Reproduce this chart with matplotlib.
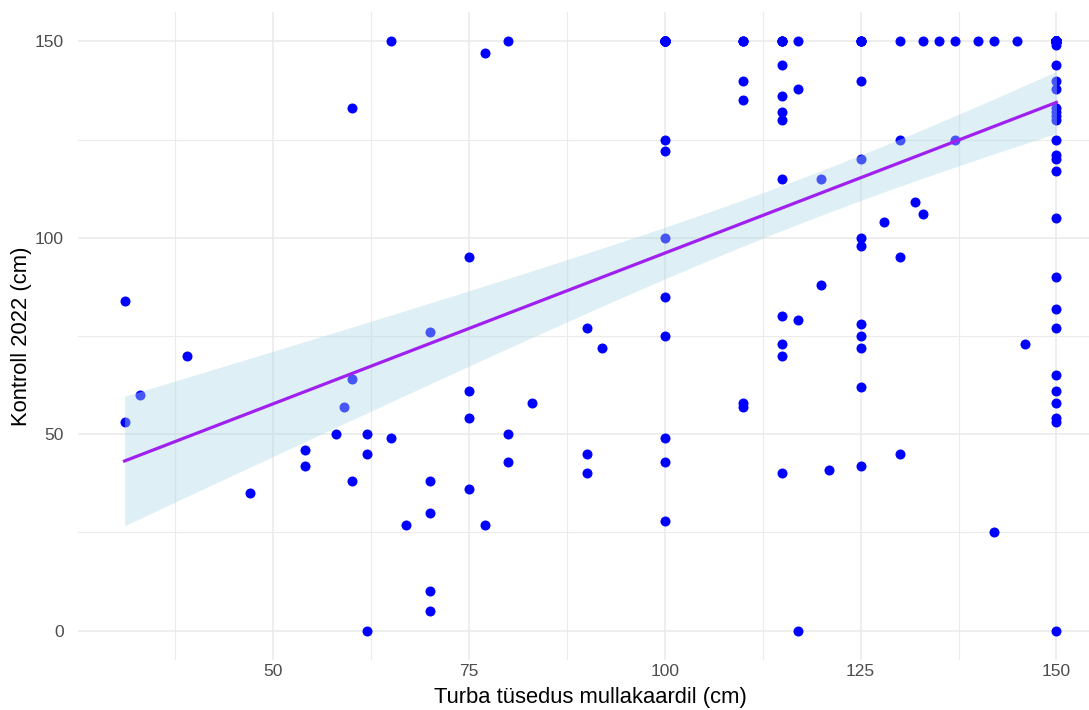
import matplotlib
matplotlib.use("Agg")
import matplotlib.pyplot as plt
import numpy as np
from matplotlib.ticker import MultipleLocator

# turba tüsedus mullakaardil (x) vs kontroll 2022 (y), cm
turba = [31, 39, 33, 31, 60, 59, 58, 62, 65, 54, 54, 62, 60, 47, 62, 65, 60,
         77, 80, 100, 100, 100, 100, 100, 75, 100, 90, 70, 100, 92, 75, 83,
         75, 80, 100, 80, 90, 100, 90, 70, 75, 70, 67, 77, 100, 70, 70,
         110, 115, 117, 125, 115, 110, 110, 117, 115, 115, 115, 125, 125,
         115, 120, 125, 125, 120, 115, 117, 125, 125, 115, 115, 125, 125,
         110, 110, 115, 121, 125, 117,
         130, 133, 135, 137, 140, 142, 145, 150, 150, 150, 150, 150, 150,
         150, 150, 150, 150, 130, 137, 150, 150, 150, 150, 132, 133, 128,
         150, 130, 150, 150, 150, 146, 150, 150, 150, 150, 150, 130, 142, 150]
kontroll = [84, 70, 60, 53, 64, 57, 50, 50, 49, 46, 42, 45, 38, 35, 0, 150, 133,
            147, 150, 150, 150, 125, 122, 100, 95, 85, 77, 76, 75, 72, 61, 58,
            54, 50, 49, 43, 45, 43, 40, 38, 36, 30, 27, 27, 28, 10, 5,
            150, 150, 150, 150, 144, 140, 135, 138, 136, 132, 130, 140, 120,
            115, 115, 100, 98, 88, 80, 79, 78, 75, 73, 70, 72, 62,
            58, 57, 40, 41, 42, 0,
            150, 150, 150, 150, 150, 150, 150, 150, 150, 149, 144, 140, 138,
            133, 132, 131, 130, 125, 125, 125, 121, 120, 117, 109, 106, 104,
            105, 95, 90, 82, 77, 73, 65, 61, 58, 54, 53, 45, 25, 0]

# points capped at 150 that sit on top of each other (hidden in the scatter)
stacked_turba = [150, 100, 125, 115, 110]
stacked_kontroll = [150, 150, 150, 150, 150]
stacked_count = [44, 12, 3, 3, 2]

x = np.concatenate([turba, np.repeat(stacked_turba, stacked_count)]).astype(float)
y = np.concatenate([kontroll, np.repeat(stacked_kontroll, stacked_count)]).astype(float)

# lm fit with 95% confidence band (like geom_smooth(method="lm"))
n = len(x)
b1, b0 = np.polyfit(x, y, 1)
resid = y - (b0 + b1 * x)
s = np.sqrt(np.sum(resid ** 2) / (n - 2))
sxx = np.sum((x - x.mean()) ** 2)
xs = np.linspace(x.min(), x.max(), 80)
fit = b0 + b1 * xs
se = s * np.sqrt(1 / n + (xs - x.mean()) ** 2 / sxx)
tq = 1.973
lo, hi = fit - tq * se, fit + tq * se

plt.rcParams['font.family'] = ['Liberation Sans', 'DejaVu Sans']

fig = plt.figure(figsize=(10.89, 7.10), dpi=100)
W, H = 1089, 710
ax = fig.add_axes([78 / W, 50 / H, 1025 / W, 648 / H])

ax.scatter(x, y, s=52, color='#0000FF', linewidths=0, zorder=3)
ax.fill_between(xs, lo, hi, color='#ADD8E6', alpha=0.4, linewidth=0, zorder=4)
ax.plot(xs, fit, color='#A020F0', linewidth=2.3, zorder=5)

xr = x.max() - x.min()
ax.set_xlim(x.min() - 0.05 * xr, x.max() + 0.05 * xr)
ax.set_ylim(-7.5, 157.5)

ax.xaxis.set_major_locator(MultipleLocator(25))
ax.xaxis.set_minor_locator(MultipleLocator(12.5))
ax.yaxis.set_major_locator(MultipleLocator(50))
ax.yaxis.set_minor_locator(MultipleLocator(25))
ax.grid(which='major', color='#EBEBEB', linewidth=1.2)
ax.grid(which='minor', color='#EBEBEB', linewidth=0.8)
ax.set_axisbelow(True)
for sp in ax.spines.values():
    sp.set_visible(False)
ax.tick_params(which='both', length=0)
ax.tick_params(axis='x', pad=3, labelsize=12.5, labelcolor='#4D4D4D')
ax.tick_params(axis='y', pad=10, labelsize=12.5, labelcolor='#4D4D4D')

ax.set_xlabel('Turba tüsedus mullakaardil (cm)', fontsize=15.8, labelpad=6)
ax.set_ylabel('Kontroll 2022 (cm)', fontsize=15.8, labelpad=2)

fig.savefig('out.png', dpi=100)
